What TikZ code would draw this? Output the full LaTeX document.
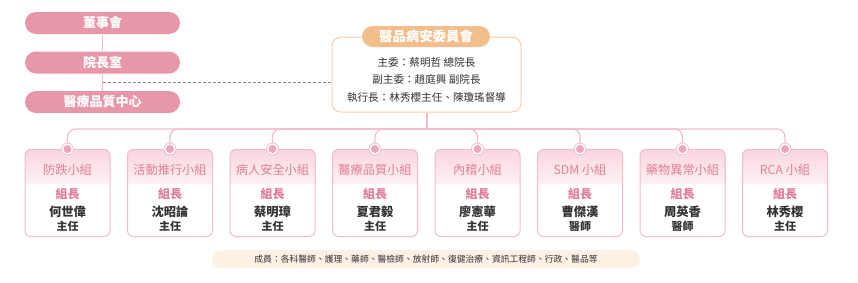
\documentclass[tikz,border=0pt]{standalone}
\usepackage{fontspec}
\setmainfont{Noto Sans CJK TC}
\usetikzlibrary{calc}
\definecolor{lpink}{HTML}{E897A9}
\definecolor{bpink}{HTML}{F2BCCB}
\definecolor{tpink}{HTML}{E27E99}
\definecolor{dotpink}{HTML}{EEA6BA}
\definecolor{hpinkA}{HTML}{F9D6DF}
\definecolor{hpinkB}{HTML}{FDF0F3}
\definecolor{peach}{HTML}{F2BE8C}
\definecolor{peachline}{HTML}{F6CFA8}
\definecolor{peachbg}{HTML}{FDF1E5}
\definecolor{darktxt}{HTML}{333333}
\definecolor{dashgray}{HTML}{888888}
\tikzset{
  leftbox/.style={rectangle, rounded corners=11pt, fill=lpink, minimum width=155pt, minimum height=22pt, inner sep=0pt, text=white, font=\fontsize{13}{13}\selectfont\bfseries},
  pinkline/.style={draw=bpink, line width=1pt},
  linkline/.style={draw=bpink, line width=1.2pt, rounded corners=8pt},
}
\begin{document}
\begin{tikzpicture}[x=1pt,y=-1pt]
\useasboundingbox (0,0) rectangle (858,282);
% left column
\node[leftbox] (board) at (102.5,23) {董事會};
\node[leftbox] (pres) at (102.5,62.5) {院長室};
\node[leftbox] (qc) at (102.5,102) {醫療品質中心};
\draw[pinkline] (board.south) -- (pres.north);
\draw[pinkline] (pres.south) -- (qc.north);
\coordinate (dashstart) at (102.5,82);
% committee
\node[rectangle, rounded corners=9pt, draw=peachline, line width=1pt, fill=white, minimum width=189pt, minimum height=75pt, inner sep=0pt] (comm) at (426.5,74.5) {};
\draw[dashgray, dashed, dash pattern=on 3pt off 2pt, line width=0.7pt] (dashstart) -- (dashstart -| comm.west);
\node[rectangle, rounded corners=10.5pt, fill=peach, minimum width=128pt, minimum height=21pt, inner sep=0pt, text=white, font=\fontsize{13.4}{13.4}\selectfont\bfseries] (commtitle) at (426,36.5) {醫品病安委員會};
\node[text=darktxt, font=\fontsize{10.6}{10.6}\selectfont, inner sep=0pt] (l1) at (426.5,62.5) {主委：蔡明哲 總院長};
\node[text=darktxt, font=\fontsize{10.6}{10.6}\selectfont, inner sep=0pt] (l2) at (426.5,79.5) {副主委：趙庭興 副院長};
\node[text=darktxt, font=\fontsize{10.6}{10.6}\selectfont, inner sep=0pt] (l3) at (426.5,97) {執行長：林秀櫻主任、陳瓊瑤督導};
\coordinate (busc) at (427,129);
\draw[linkline] (comm.south -| busc) -- (busc);
% groups
\foreach \i/\x/\t/\n/\r in {
  1/67.5/防跌小組/何世偉/主任,
  2/170/活動推行小組/沈昭論/主任,
  3/272.5/病人安全小組/蔡明璋/主任,
  4/375/醫療品質小組/夏君毅/主任,
  5/477.5/內稽小組/廖憲華/主任,
  6/580/SDM 小組/曹傑漢/醫師,
  7/682.5/藥物異常小組/周英香/醫師,
  8/785/RCA 小組/林秀櫻/主任}{
  \begin{scope}
    \path[clip] (\x-42.5,149.5) [rounded corners=6pt] -- (\x+42.5,149.5) -- (\x+42.5,236.5) -- (\x-42.5,236.5) -- cycle;
    \fill[top color=hpinkA, bottom color=hpinkB] (\x-43,149) rectangle (\x+43,183);
  \end{scope}
  \node[rectangle, rounded corners=6pt, draw=bpink, line width=1pt, minimum width=85pt, minimum height=87pt, inner sep=0pt] (g\i) at (\x,193) {};
  \node[text=tpink, font=\fontsize{12.2}{12.2}\selectfont, inner sep=0pt] (gt\i) at (\x,170) {\t};
  \node[text=tpink, font=\fontsize{12}{12}\selectfont\bfseries, inner sep=0pt] (gl\i) at (\x,193.5) {組長};
  \node[text=darktxt, font=\fontsize{12.3}{12.3}\selectfont\bfseries, inner sep=0pt] (gn\i) at (\x,211.5) {\n};
  \node[text=darktxt, font=\fontsize{11}{11}\selectfont\bfseries, inner sep=0pt] (gr\i) at (\x,226) {\r};
  \draw[linkline] (g\i.north) -- (g\i.north |- busc) -- (busc);
  \node[circle, draw=bpink, fill=white, line width=0.8pt, minimum size=12pt, inner sep=0pt] (gc\i) at (g\i.north) {};
  \fill[dotpink] (gc\i.center) circle (4pt);
}
% members bar
\node[rectangle, rounded corners=9pt, fill=peachbg, minimum width=428pt, minimum height=18pt, inner sep=0pt, text=darktxt, font=\fontsize{8.8}{8.8}\selectfont] (members) at (426,259) {成員：各科醫師、護理、藥師、醫檢師、放射師、復健治療、資訊工程師、行政、醫品等};
\end{tikzpicture}
\end{document}
